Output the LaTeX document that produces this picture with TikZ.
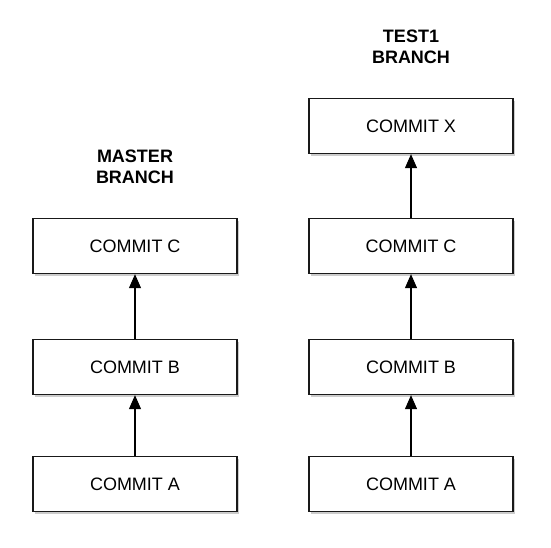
\documentclass[tikz,border=0pt]{standalone}
\usepackage{fontspec}
\setmainfont{Liberation Sans}
\usetikzlibrary{shadows,arrows.meta}
\begin{document}
\begin{tikzpicture}[x=1pt,y=-1pt,
  commitbox/.style={draw=black!90, line width=1.3pt, fill=white, minimum width=204pt, minimum height=55pt, inner sep=0pt, font=\fontsize{18}{21}\selectfont,
    drop shadow={shadow xshift=1.5pt, shadow yshift=-2pt, fill=black!40, opacity=0.5}},
  branchlabel/.style={align=center, font=\bfseries\fontsize{18}{21}\selectfont, inner sep=0pt},
  link/.style={line width=1.1pt, -{Triangle[length=14pt,width=12pt]}}]
\useasboundingbox (0,0) rectangle (551,547);
\node[branchlabel] (mlabel) at (135,167) {MASTER\\BRANCH};
\node[branchlabel] (tlabel) at (411,47) {TEST1\\BRANCH};
\node[commitbox] (mc) at (135,246) {COMMIT C};
\node[commitbox] (mb) at (135,367) {COMMIT B};
\node[commitbox] (ma) at (135,484) {COMMIT A};
\node[commitbox] (tx) at (411,126) {COMMIT X};
\node[commitbox] (tc) at (411,246) {COMMIT C};
\node[commitbox] (tb) at (411,367) {COMMIT B};
\node[commitbox] (ta) at (411,484) {COMMIT A};
\draw[link] (ma) -- (mb);
\draw[link] (mb) -- (mc);
\draw[link] (ta) -- (tb);
\draw[link] (tb) -- (tc);
\draw[link] (tc) -- (tx);
\end{tikzpicture}
\end{document}
